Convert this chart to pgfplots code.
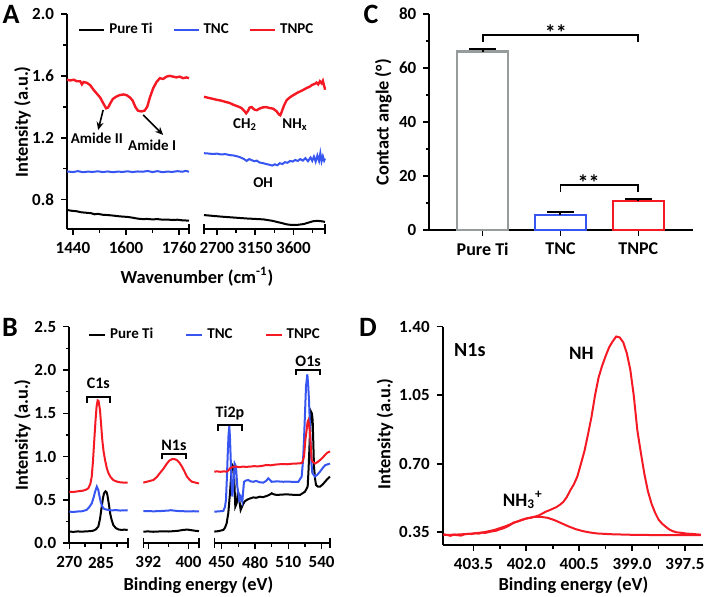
\documentclass[border=0pt]{standalone}
\usepackage{fontspec}
\setmainfont{Carlito}
\usepackage{pgfplots}
\pgfplotsset{compat=1.18}
\usetikzlibrary{arrows.meta}

\definecolor{cred}{RGB}{245,25,35}
\definecolor{cblue}{RGB}{55,85,240}
\definecolor{cgray}{RGB}{150,155,155}

\pgfplotsset{
  base/.style={
    scale only axis, anchor=south west,
    axis lines*=left,
    axis line style={line width=1pt},
    tick align=outside, major tick length=3pt, minor tick length=1.8pt,
    tick style={line width=0.8pt, black},
    tick label style={font=\fontsize{8.5}{10}\selectfont},
    /pgf/number format/assume math mode=true,
    /pgf/number format/1000 sep={},
    clip=false,
    every axis plot/.append style={line width=1pt},
    extra x tick style={tick align=center, major tick length=5pt},
    extra x tick labels={},
  },
  brk/.style={axis x line*=bottom, axis y line=none},
  yfmt/.style={yticklabel style={/pgf/number format/.cd, fixed, fixed zerofill, precision=#1}},
  ebar/.style={error bars/.cd, y dir=plus, y explicit, error mark=|,
    error bar style={black, line width=1pt},
    error mark options={black, line width=1pt, mark size=6.75pt}},
}
\tikzset{
  note/.style={font=\fontsize{7.5}{9}\selectfont},
  arr/.style={-{Stealth[length=4pt,width=3.5pt]}, line width=0.8pt},
  ttl/.style={font=\fontsize{9.2}{11}\selectfont},
}

\begin{document}
\bfseries
\begin{tikzpicture}
\useasboundingbox (0,0) rectangle (352.5pt,298.5pt);

% ---------------- A ----------------
\begin{axis}[base, yfmt=1, at={(33.5pt,184pt)}, width=61pt, height=107.5pt,
  xmin=1422, xmax=1790, ymin=0.61, ymax=2.0,
  xtick={1440,1600,1760}, minor xtick={1520,1680},
  ytick={0.8,1.2,1.6,2.0}, minor ytick={1.0,1.4,1.8},
  extra x ticks={1790},
  legend style={at={(axis description cs:0.04,0.926)}, anchor=west, draw=none, fill=none,
    legend columns=3, font=\fontsize{7.5}{9}\selectfont,
    /tikz/every even column/.append style={column sep=8pt}},
  legend image code/.code={\draw[#1] (0pt,0pt) -- (12.5pt,0pt);}]
\addplot[black] coordinates {(1422,0.733) (1435,0.728) (1450,0.725) (1465,0.718) (1480,0.715) (1495,0.712) (1505,0.705) (1515,0.708) (1530,0.702) (1545,0.700) (1560,0.697) (1575,0.693) (1590,0.690) (1605,0.688) (1620,0.683) (1635,0.677) (1650,0.674) (1665,0.675) (1680,0.672) (1695,0.674) (1710,0.670) (1725,0.671) (1740,0.668) (1755,0.670) (1770,0.666) (1790,0.664)};
\addplot[cblue] coordinates {(1422,0.982) (1440,0.978) (1455,0.984) (1470,0.977) (1485,0.981) (1500,0.979) (1515,0.983) (1530,0.978) (1545,0.982) (1560,0.977) (1575,0.981) (1590,0.979) (1605,0.983) (1620,0.978) (1635,0.982) (1650,0.980) (1665,0.985) (1680,0.978) (1695,0.984) (1710,0.977) (1725,0.981) (1740,0.979) (1755,0.984) (1770,0.980) (1780,0.986) (1790,0.980)};
\addplot[cred, line width=1.2pt] coordinates {(1422,1.575) (1432,1.57) (1442,1.575) (1452,1.565) (1462,1.565) (1467,1.545) (1472,1.56) (1482,1.555) (1492,1.54) (1502,1.51) (1512,1.485) (1522,1.46) (1532,1.42) (1540,1.39) (1546,1.395) (1552,1.42) (1560,1.45) (1570,1.465) (1580,1.475) (1592,1.48) (1602,1.475) (1612,1.46) (1620,1.44) (1628,1.40) (1636,1.375) (1646,1.37) (1656,1.375) (1664,1.40) (1672,1.46) (1682,1.52) (1692,1.56) (1702,1.585) (1712,1.58) (1722,1.595) (1732,1.60) (1742,1.595) (1752,1.59) (1762,1.595) (1772,1.585) (1782,1.59) (1790,1.585)};
\legend{Pure Ti,TNC,TNPC}
\node[note] at (axis cs:1512,1.198) {Amide II};
\draw[arr] (axis cs:1531,1.379) -- (axis cs:1516,1.25);
\node[note] at (axis cs:1679,1.153) {Amide I};
\draw[arr] (axis cs:1652,1.347) -- (axis cs:1712,1.218);
\end{axis}

\begin{axis}[base, brk, at={(102pt,184pt)}, width=60.5pt, height=107.5pt,
  xmin=2550, xmax=3970, ymin=0.61, ymax=2.0,
  xtick={2700,3150,3600}, minor xtick={2925,3375,3825},
  extra x ticks={2550,3970}]
\addplot[black] coordinates {(2550,0.700) (2650,0.695) (2750,0.690) (2850,0.686) (2950,0.682) (3050,0.678) (3150,0.675) (3250,0.672) (3350,0.663) (3450,0.650) (3520,0.640) (3580,0.636) (3650,0.637) (3720,0.642) (3780,0.652) (3830,0.660) (3880,0.663) (3930,0.660) (3970,0.656)};
\addplot[cblue] coordinates {(2550,1.100) (2600,1.098) (2650,1.095) (2700,1.097) (2750,1.092) (2800,1.094) (2850,1.088) (2900,1.085) (2950,1.078) (2990,1.070) (3020,1.062) (3050,1.050) (3080,1.062) (3110,1.055) (3140,1.048) (3170,1.052) (3200,1.040) (3240,1.036) (3280,1.030) (3320,1.025) (3350,1.020) (3380,1.028) (3410,1.022) (3440,1.035) (3470,1.030) (3500,1.042) (3530,1.038) (3560,1.050) (3590,1.046) (3620,1.056) (3650,1.050) (3680,1.062) (3710,1.052) (3740,1.068) (3770,1.048) (3800,1.072) (3820,1.050) (3840,1.078) (3860,1.045) (3880,1.085) (3900,1.050) (3915,1.100) (3930,1.048) (3945,1.080) (3960,1.052) (3970,1.065)};
\addplot[cred, line width=1.2pt] coordinates {(2550,1.465) (2600,1.458) (2650,1.452) (2700,1.445) (2750,1.440) (2800,1.432) (2850,1.425) (2900,1.412) (2950,1.402) (2990,1.392) (3020,1.375) (3045,1.358) (3065,1.372) (3085,1.395) (3110,1.398) (3140,1.382) (3170,1.378) (3200,1.388) (3240,1.396) (3280,1.398) (3320,1.392) (3360,1.388) (3400,1.372) (3430,1.350) (3445,1.345) (3460,1.365) (3490,1.410) (3520,1.443) (3560,1.462) (3600,1.476) (3650,1.492) (3700,1.505) (3750,1.520) (3790,1.530) (3820,1.542) (3850,1.548) (3870,1.556) (3890,1.545) (3910,1.565) (3930,1.552) (3945,1.568) (3955,1.545) (3965,1.525) (3970,1.510)};
\node[note] at (axis cs:3031,1.282) {CH\textsubscript{2}};
\node[note] at (axis cs:3618,1.282) {NH\textsubscript{x}};
\node[note] at (axis cs:3243,0.907) {OH};
\end{axis}

% ---------------- C ----------------
\begin{axis}[base, at={(214.65pt,183.5pt)}, width=131.85pt, height=108pt,
  xmin=-0.686, xmax=2.703, ymin=0, ymax=80,
  xtick={0,1,2}, xticklabels={Pure Ti,TNC,TNPC},
  xticklabel style={font=\fontsize{9}{10}\selectfont},
  ytick={0,20,40,60,80}, minor ytick={10,30,50,70}]
\addplot[ybar, bar shift=0pt, bar width=25.5pt, draw=cgray, fill=white, line width=1.1pt, ebar]
  coordinates {(0,66.1) +- (0,1.1)};
\addplot[ybar, bar shift=0pt, bar width=25.5pt, draw=cblue, fill=white, line width=1.1pt, ebar]
  coordinates {(1,5.6) +- (0,1.2)};
\addplot[ybar, bar shift=0pt, bar width=25.5pt, draw=cred, fill=white, line width=1.1pt, ebar]
  coordinates {(2,10.7) +- (0,0.8)};
\draw[line width=0.9pt] (axis cs:0,69.7) -- (axis cs:0,72.2) -- (axis cs:2,72.2) -- (axis cs:2,69.7);
\node[font=\fontsize{11}{12}\selectfont] at (axis cs:0.94,73.2) {**};
\draw[line width=0.9pt] (axis cs:1,14.0) -- (axis cs:1,16.7) -- (axis cs:2,16.7) -- (axis cs:2,14.0);
\node[font=\fontsize{11}{12}\selectfont] at (axis cs:1.36,17.6) {**};
\end{axis}

% ---------------- B ----------------
\begin{axis}[base, yfmt=1, at={(34.65pt,26.85pt)}, width=29.2pt, height=108.3pt,
  xmin=270, xmax=297.6, ymin=0, ymax=2.5,
  xtick={270,285}, minor xtick={277.5,292.5},
  ytick={0,0.5,...,2.5}, minor ytick={0.25,0.75,...,2.25},
  extra x ticks={297.6},
  legend style={at={(axis description cs:0.212,0.962)}, anchor=west, draw=none, fill=none,
    legend columns=3, font=\fontsize{7.5}{9}\selectfont,
    /tikz/every even column/.append style={column sep=14pt}},
  legend image code/.code={\draw[#1] (0pt,0pt) -- (8pt,0pt);}]
\addplot[black] coordinates {(270,0.135) (272,0.132) (274,0.137) (276,0.134) (278,0.138) (280,0.140) (281.4,0.146) (282.5,0.16) (283.7,0.192) (284.5,0.28) (285.3,0.42) (285.9,0.52) (286.4,0.577) (287.1,0.60) (287.6,0.59) (288,0.558) (288.7,0.45) (289.3,0.346) (290,0.27) (290.8,0.21) (292,0.175) (293.2,0.16) (294.5,0.155) (296,0.157) (297.6,0.155)};
\addplot[cblue] coordinates {(270,0.365) (272,0.362) (274,0.367) (276,0.37) (278.2,0.385) (279.5,0.42) (280.6,0.46) (281.5,0.53) (282.2,0.596) (283,0.654) (283.7,0.615) (284.3,0.54) (284.8,0.48) (285.5,0.43) (286.1,0.404) (287,0.392) (288.5,0.385) (290,0.380) (292,0.383) (294,0.378) (296,0.381) (297.6,0.379)};
\addplot[cred] coordinates {(270,0.596) (272,0.592) (274,0.6) (276.6,0.608) (278,0.62) (279,0.635) (280,0.69) (280.6,0.77) (281.2,0.95) (281.8,1.19) (282.4,1.42) (282.9,1.58) (283.4,1.65) (283.8,1.645) (284.5,1.54) (285,1.38) (285.6,1.19) (286.2,1.06) (286.9,0.96) (287.7,0.87) (288.5,0.81) (289.5,0.765) (290.8,0.73) (292.5,0.712) (294,0.704) (296,0.70) (297.6,0.70)};
\legend{Pure Ti,TNC,TNPC}
\draw[line width=0.9pt] (axis cs:278.2,1.62) -- (axis cs:278.2,1.69) -- (axis cs:289.3,1.69) -- (axis cs:289.3,1.62);
\node[note, font=\fontsize{8}{9}\selectfont] at (axis cs:283.7,1.846) {C1s};
\end{axis}

\begin{axis}[base, brk, at={(71.65pt,26.85pt)}, width=27.85pt, height=108.3pt,
  xmin=391, xmax=402.1, ymin=0, ymax=2.5,
  xtick={392,400}, minor xtick={396},
  extra x ticks={391,402.1}]
\addplot[black] coordinates {(391,0.135) (392,0.137) (393,0.133) (394,0.136) (395,0.138) (396,0.136) (397,0.140) (398,0.145) (399,0.155) (399.8,0.158) (400.5,0.152) (401.3,0.145) (402.1,0.140)};
\addplot[cblue] coordinates {(391,0.370) (392,0.372) (393,0.369) (394,0.371) (395,0.374) (396,0.378) (396.5,0.382) (397,0.378) (398,0.372) (399,0.370) (400,0.369) (401,0.370) (402.1,0.368)};
\addplot[cred] coordinates {(391,0.70) (392,0.715) (393,0.73) (393.7,0.765) (394.3,0.81) (395,0.86) (395.7,0.92) (396.2,0.955) (396.7,0.97) (397.2,0.972) (397.7,0.96) (398.2,0.93) (398.7,0.885) (399.2,0.83) (399.7,0.77) (400.2,0.735) (400.7,0.71) (401.4,0.70) (402.1,0.69)};
\draw[line width=0.9pt] (axis cs:394.7,0.97) -- (axis cs:394.7,1.03) -- (axis cs:399.5,1.03) -- (axis cs:399.5,0.97);
\node[note, font=\fontsize{8}{9}\selectfont] at (axis cs:397.1,1.135) {N1s};
\end{axis}

\begin{axis}[base, brk, at={(107.15pt,26.85pt)}, width=57.85pt, height=108.3pt,
  xmin=443.4, xmax=547.5, ymin=0, ymax=2.5,
  xtick={450,480,510,540}, minor xtick={465,495,525},
  extra x ticks={443.4,547.5}]
\addplot[black] coordinates {(443.4,0.135) (447,0.14) (451.5,0.154) (453,0.18) (454.5,0.23) (456,0.35) (457.5,0.577) (458.6,0.78) (459.6,0.904) (460.3,0.89) (461.1,0.846) (461.7,0.62) (462.3,0.423) (463.5,0.46) (464.7,0.596) (465.3,0.57) (465.9,0.50) (467.1,0.385) (468.9,0.44) (470.5,0.48) (472.5,0.50) (475,0.515) (478.5,0.53) (481,0.525) (484.5,0.538) (487,0.532) (490.5,0.546) (493,0.56) (495,0.577) (497,0.565) (499.5,0.558) (504,0.562) (508.5,0.565) (514,0.56) (520.5,0.558) (525,0.596) (527.4,0.654) (528.2,0.85) (528.9,1.077) (529.7,1.35) (530.4,1.52) (531.2,1.5) (531.9,1.42) (532.5,1.15) (533.1,0.885) (534,0.75) (534.9,0.673) (536.5,0.655) (538.5,0.654) (541,0.68) (543,0.71) (545,0.74) (547.5,0.77)};
\addplot[cblue] coordinates {(443.4,0.365) (447,0.368) (451.5,0.373) (453,0.42) (453.9,0.50) (454.7,0.75) (455.4,1.0) (456.2,1.25) (456.9,1.354) (457.5,1.22) (458.1,1.0) (458.8,0.72) (459.6,0.54) (460.5,0.654) (461.7,0.92) (462.9,0.885) (464.1,0.654) (465.9,0.50) (467.1,0.54) (468.6,0.48) (470.1,0.71) (472,0.725) (474,0.73) (476,0.715) (478.5,0.71) (481,0.72) (484,0.705) (487.5,0.70) (490,0.72) (492,0.75) (493.5,0.73) (495,0.71) (500,0.715) (505.5,0.71) (510,0.712) (515,0.708) (519,0.71) (522,0.77) (523.2,0.95) (524.1,1.19) (525,1.5) (525.9,1.81) (527.1,1.95) (527.9,1.82) (528.6,1.65) (529.4,1.38) (530.1,1.115) (530.8,0.93) (531.6,0.81) (534,0.77) (536,0.79) (538.5,0.827) (541,0.87) (543,0.90) (545,0.91) (547.5,0.92)};
\addplot[cred] coordinates {(443.4,0.827) (446,0.83) (449,0.825) (452,0.83) (454.5,0.827) (456,0.84) (457.5,0.865) (460.5,0.885) (463.5,0.885) (466,0.878) (469,0.885) (472,0.882) (475.5,0.885) (479,0.89) (483,0.888) (487,0.895) (490.5,0.904) (494,0.9) (498,0.908) (501.5,0.912) (505.5,0.915) (509,0.912) (513,0.918) (516.5,0.92) (520.5,0.923) (522.5,0.93) (524.1,1.0) (525.4,1.2) (526.5,1.31) (527.3,1.40) (528,1.42) (528.8,1.35) (529.5,1.27) (530.3,1.1) (531,0.96) (532.5,0.935) (534,0.92) (536,0.935) (538.5,0.96) (541,0.99) (543,1.02) (545,1.045) (547.5,1.06)};
\draw[line width=0.9pt] (axis cs:447,1.30) -- (axis cs:447,1.365) -- (axis cs:468,1.365) -- (axis cs:468,1.30);
\node[note, font=\fontsize{8}{9}\selectfont] at (axis cs:457.5,1.5) {Ti2p};
\draw[line width=0.9pt] (axis cs:517,1.94) -- (axis cs:517,2.0) -- (axis cs:538.5,2.0) -- (axis cs:538.5,1.94);
\node[note, font=\fontsize{8}{9}\selectfont] at (axis cs:527.8,2.10) {O1s};
\end{axis}

% ---------------- D ----------------
\begin{axis}[base, at={(221.35pt,26pt)}, width=130.3pt, height=109.15pt,
  x dir=reverse, xmin=396.98, xmax=404.37, ymin=0.285, ymax=1.40,
  xtick={397.5,399,400.5,402,403.5}, minor xtick={398.25,399.75,401.25,402.75},
  xticklabel style={/pgf/number format/.cd, fixed, fixed zerofill, precision=1},
  ytick={0.35,0.70,1.05,1.40}, yfmt=2]
\addplot[cred] coordinates {(404.35,0.340) (404.25,0.336) (404.15,0.332) (404.05,0.338) (403.95,0.335) (403.85,0.333) (403.75,0.340) (403.65,0.342) (403.55,0.341) (403.45,0.345) (403.35,0.343) (403.25,0.348) (403.15,0.347) (403.05,0.352) (402.95,0.355) (402.85,0.358) (402.75,0.365) (402.65,0.370) (402.55,0.378) (402.45,0.388) (402.35,0.400) (402.25,0.405) (402.15,0.412) (402.05,0.418) (401.95,0.422) (401.85,0.425) (401.75,0.430) (401.65,0.436) (401.55,0.445) (401.45,0.455) (401.35,0.462) (401.25,0.470) (401.15,0.478) (401.05,0.490) (400.95,0.505) (400.85,0.530) (400.75,0.565) (400.65,0.595) (400.55,0.636) (400.45,0.700) (400.35,0.765) (400.25,0.850) (400.15,0.940) (400.05,1.050) (399.95,1.140) (399.85,1.200) (399.75,1.250) (399.65,1.295) (399.55,1.325) (399.45,1.350) (399.35,1.345) (399.25,1.320) (399.15,1.265) (399.05,1.180) (398.95,1.045) (398.85,0.870) (398.75,0.755) (398.65,0.647) (398.55,0.559) (398.45,0.497) (398.35,0.451) (398.25,0.415) (398.15,0.394) (398.05,0.379) (397.95,0.365) (397.85,0.356) (397.75,0.350) (397.65,0.348) (397.55,0.346) (397.45,0.343) (397.35,0.342) (397.25,0.341) (397.15,0.339) (397.05,0.338)};
\addplot[cred] coordinates {(404.35,0.336) (404.0,0.338) (403.6,0.342) (403.2,0.350) (402.9,0.362) (402.6,0.380) (402.3,0.402) (402.0,0.420) (401.8,0.428) (401.6,0.429) (401.4,0.424) (401.2,0.412) (401.0,0.396) (400.8,0.380) (400.6,0.366) (400.4,0.356) (400.2,0.349) (400.0,0.344) (399.6,0.340) (399.0,0.337) (398.0,0.335) (397.05,0.335)};
\node[font=\fontsize{10}{11}\selectfont] at (axis cs:403.6,1.28) {N1s};
\node[font=\fontsize{9.5}{11}\selectfont] at (axis cs:400.44,1.265) {NH};
\node[font=\fontsize{9.5}{11}\selectfont] at (axis cs:402.1,0.515) {NH\textsubscript{3}\textsuperscript{+}};
\end{axis}

% axis titles and panel letters
\node[ttl, rotate=90] at (11.25pt,237.5pt) {Intensity (a.u.)};
\node[ttl] at (98.5pt,160pt) {Wavenumber (cm\textsuperscript{-1})};
\node[ttl, rotate=90] at (191.7pt,237.3pt) {Contact angle (°)};
\node[ttl, rotate=90] at (11.25pt,81pt) {Intensity (a.u.)};
\node[ttl] at (99.2pt,6pt) {Binding energy (eV)};
\node[ttl, rotate=90] at (192.5pt,81.5pt) {Intensity (a.u.)};
\node[ttl] at (286.7pt,6pt) {Binding energy (eV)};
\node[font=\fontsize{14}{16}\selectfont] at (5.5pt,291.5pt) {A};
\node[font=\fontsize{14}{16}\selectfont] at (185.5pt,291.5pt) {C};
\node[font=\fontsize{14}{16}\selectfont] at (5pt,134.75pt) {B};
\node[font=\fontsize{14}{16}\selectfont] at (184pt,134.75pt) {D};
\end{tikzpicture}
\end{document}
